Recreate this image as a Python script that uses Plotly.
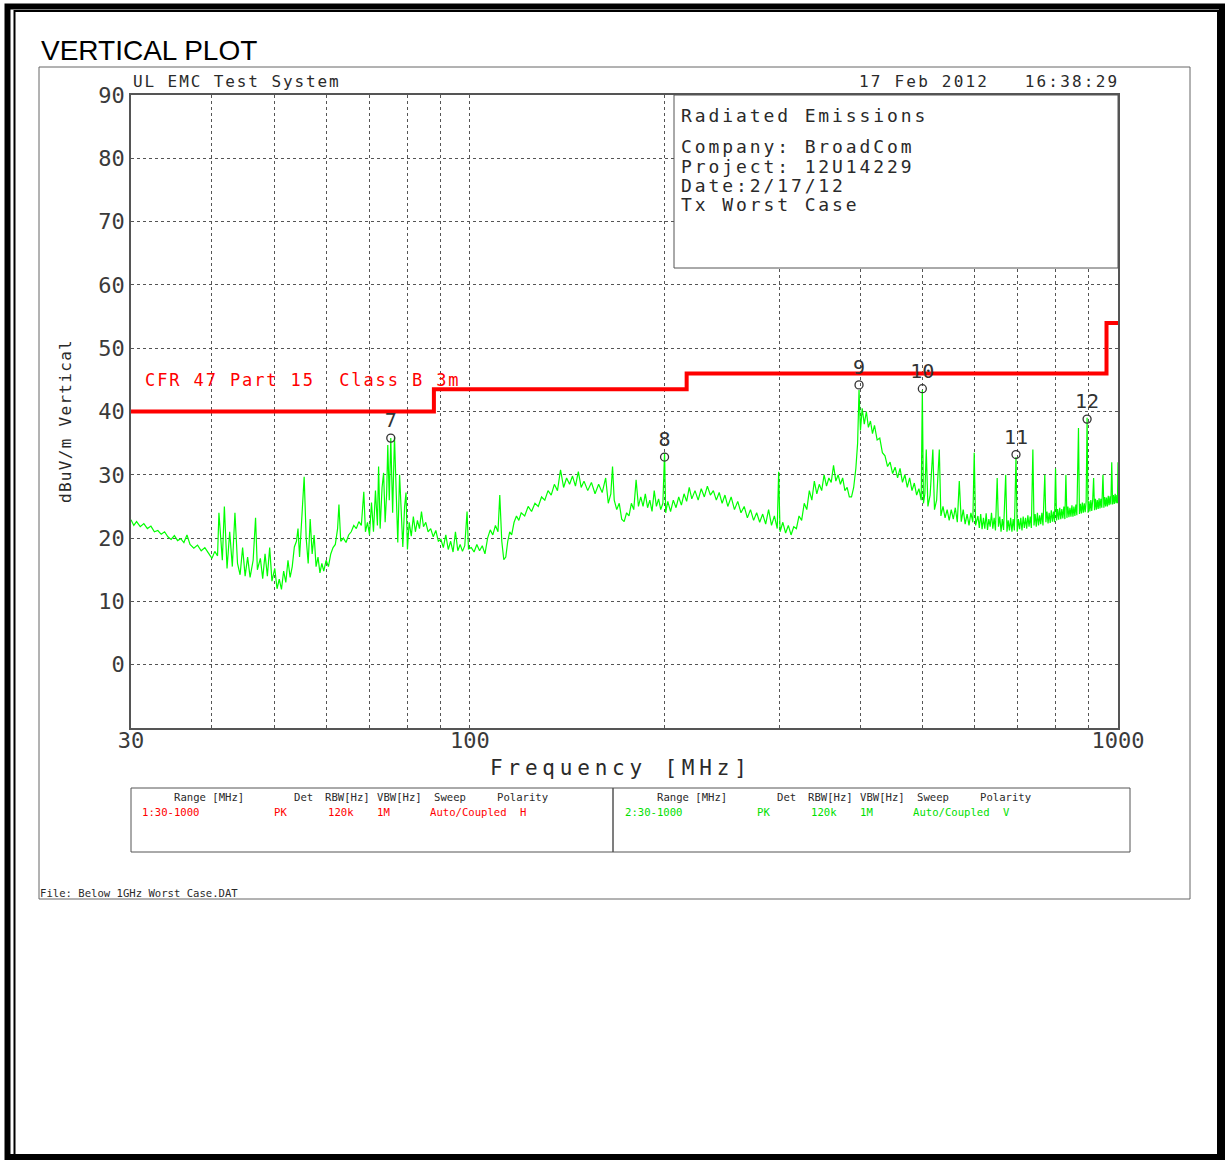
import math
import plotly.graph_objects as go

W, H = 1228, 1160
MONO = "DejaVu Sans Mono"
SANS = "Liberation Sans, Arial"
INK = "#2a2a2a"


def px(x):
    return x / W


def py(y):
    return 1 - y / H


# ---------------- data ----------------
freq_30_40 = [30, 30.3, 30.6, 31, 31.4, 31.8, 32.2, 32.6, 33, 33.4, 33.8, 34.2, 34.6, 35, 35.4,
              35.8, 36.2, 36.6, 37, 37.5, 38, 38.5, 39, 39.5, 40, 40.4, 40.8]
level_30_40 = [22.9, 22.0, 22.6, 21.8, 22.3, 21.5, 21.9, 21.0, 21.2, 20.6, 21.0, 20.2, 19.8, 20.4, 19.6,
               19.9, 19.3, 20.5, 19.0, 18.4, 18.9, 18.0, 18.5, 17.6, 16.8, 17.9, 17.2]

freq_41_70 = [41.0, 41.5, 41.8, 42.2, 42.6, 43.0, 43.4, 43.8, 44.2, 44.6, 45.0, 45.4, 45.8, 46.3, 46.7,
              47.0, 47.5, 47.9, 48.3, 48.7, 49.1, 49.5, 50.0, 50.4, 50.8, 51.2, 51.6, 52.0, 52.4, 52.8,
              53.2, 53.6, 54.0, 54.3, 54.6, 55.0, 55.5, 55.9, 56.3, 56.7, 57.1, 57.5, 57.9, 58.3, 58.7,
              59.1, 59.5, 60.0, 60.5, 61.0, 61.5, 62.0, 62.5, 62.8, 63.2, 63.8, 64.4, 65.0, 65.6, 66.2,
              66.8, 67.4, 68.0, 68.6, 69.0, 69.5]
level_41_70 = [24.0, 16.5, 25.0, 15.2, 21.0, 15.5, 24.0, 16.0, 14.2, 18.5, 14.0, 17.0, 13.8, 16.5, 23.2,
               15.0, 16.8, 13.6, 17.5, 14.0, 18.5, 13.2, 15.2, 12.0, 13.5, 11.9, 14.8, 13.0, 16.5, 13.8,
               15.5, 18.6, 19.5, 21.5, 17.0, 22.0, 29.7, 20.0, 16.0, 23.0, 17.5, 20.5, 15.5, 17.0, 14.5,
               16.0, 14.8, 16.5, 15.5, 17.5, 18.5, 19.0, 21.5, 25.3, 19.5, 20.0, 19.3, 20.5, 21.0, 22.0,
               21.5, 22.6, 22.0, 27.3, 21.0, 22.5]

freq_70_90 = [70.0, 70.5, 71.0, 71.5, 72.0, 72.3, 72.7, 73.2, 73.6, 74.0, 74.4, 74.7, 75.1, 75.5, 76.0,
              76.5, 77.0, 77.4, 77.9, 78.4, 78.8, 79.3, 79.7, 80.1, 80.6, 81.2, 81.8, 82.4, 83.0, 83.6,
              84.2, 84.8, 85.5, 86.2, 87.0, 87.8, 88.6, 89.4]
level_70_90 = [20.5, 25.6, 21.0, 27.5, 22.0, 31.3, 21.5, 28.0, 30.3, 22.5, 27.0, 34.7, 26.0, 35.8, 24.0,
               36.0, 26.5, 19.3, 30.0, 22.0, 18.6, 25.0, 27.2, 18.2, 22.5, 20.3, 23.4, 21.0, 22.8, 21.5,
               24.2, 21.8, 22.5, 21.0, 21.5, 20.2, 21.2, 19.5]

freq_90_162 = [90.2, 91.0, 91.8, 92.6, 93.4, 94.2, 95.0, 95.8, 96.6, 97.4, 98.2, 99.0, 99.5, 100.5, 101.5,
               102.5, 103.5, 104.5, 105.5, 106.5, 107.5, 108.5, 109.5, 110.5, 111.2, 112.0, 112.8, 113.6,
               114.4, 115.2, 116.0, 117.0, 118.0, 119.0, 120.0, 121.5, 123.0, 124.5, 126.0, 127.5, 129.0,
               130.5, 132.0, 133.5, 135.0, 136.5, 138.0, 139.5, 141.0, 142.5, 144.0, 145.5, 147.0, 148.5,
               150.0, 152.0, 154.0, 156.0, 158.0, 160.0, 162.0]
level_90_162 = [19.8, 18.5, 20.5, 18.2, 19.5, 17.8, 21.0, 18.0, 19.0, 17.9, 18.8, 24.2, 18.3, 18.5, 17.8,
                19.0, 18.0, 18.8, 17.5, 20.0, 21.3, 20.5, 22.0, 21.0, 26.8, 19.5, 16.6, 17.0,
                19.5, 21.0, 20.5, 22.5, 23.5, 22.8, 24.0, 23.5, 25.0, 24.2, 25.5, 25.0, 26.5,
                26.0, 27.5, 26.8, 28.5, 27.5, 30.8, 28.0, 29.5, 28.5, 29.8, 28.2, 30.5, 28.0,
                29.0, 27.5, 28.8, 27.0, 28.5, 27.2, 29.5]

freq_163_300 = [163.5, 165.0, 166.0, 167.0, 168.5, 170.0, 171.5, 173.0, 174.5, 176.0, 177.5, 179.0, 180.5,
                182.0, 183.5, 185.0, 186.5, 188.0, 189.5, 191.0, 192.5, 194.0, 195.5, 197.0, 198.5, 199.7,
                200.5, 202.0, 204.0, 206.0, 208.0, 210.0, 212.0, 214.0, 216.0, 218.0, 220.0, 222.5, 225.0,
                227.5, 230.0, 232.5, 235.0, 237.5, 240.0, 242.5, 245.0, 247.5, 250.0, 253.0, 256.0, 259.0,
                262.0, 265.0, 268.0, 271.0, 274.0, 277.0, 280.0, 283.0, 286.0, 289.0, 292.0, 295.0, 298.0,
                299.5]
level_163_300 = [25.5, 27.0, 31.3, 26.0, 24.5, 25.5, 23.0, 22.6, 24.0, 23.5, 25.5, 24.5, 29.2,
                 25.0, 26.5, 25.0, 27.0, 24.8, 26.0, 24.2, 27.5, 25.0, 26.2, 24.5, 25.5, 33.5,
                 24.0, 25.8, 24.2, 26.0, 24.8, 26.5, 25.2, 27.0, 25.8, 28.0, 26.2, 27.5, 26.0,
                 27.8, 26.5, 28.2, 26.8, 27.5, 26.0, 27.2, 25.5, 26.8, 25.0, 26.5, 24.5, 25.8,
                 24.0, 25.0, 23.2, 24.5, 22.8, 24.0, 22.5, 23.8, 22.2, 24.5, 22.0, 23.5, 21.5,
                 30.5]

freq_300_395 = [301.0, 304.0, 307.0, 310.0, 313.0, 316.0, 319.0, 322.0, 325.0, 328.0, 331.0, 334.0, 337.0,
                340.0, 343.0, 346.0, 349.0, 352.0, 355.0, 358.0, 361.0, 364.0, 367.0, 370.0, 373.0, 376.0,
                379.0, 382.0, 385.0, 388.0, 391.0, 394.0]
level_300_395 = [21.0, 22.5, 20.8, 22.0, 20.5, 21.8, 21.5, 23.5, 22.8, 25.5, 24.5, 27.5, 26.0,
                 29.0, 27.0, 28.5, 27.5, 30.0, 28.2, 29.5, 28.8, 31.5, 29.0, 30.0, 28.5, 29.5,
                 27.5, 28.0, 26.5, 26.5, 28.0, 31.0]

freq_396_605 = [396.5, 398.5, 400.5, 403.0, 406.0, 409.0, 412.0, 415.0, 418.0, 421.0, 425.0, 429.0, 433.0,
                437.0, 441.0, 445.0, 449.0, 453.0, 457.0, 461.0, 465.0, 469.0, 473.0, 477.0, 481.0, 485.0,
                489.0, 493.0, 497.0, 499.0, 501.0, 503.5, 506.0, 509.0, 513.0, 518.0, 521.0, 525.0, 530.0,
                533.0, 537.0, 541.0, 545.0, 549.0, 553.0, 557.0, 561.0, 565.0, 569.0, 573.0, 577.0, 581.0,
                585.0, 589.0, 593.0, 597.0, 600.0, 603.0]
level_396_605 = [35.0, 43.4, 37.0, 40.5, 38.0, 40.0, 37.5, 38.5, 36.5, 37.8, 35.5, 35.8, 33.5,
                 33.0, 31.3, 32.0, 30.2, 31.2, 29.5, 31.0, 28.8, 30.0, 28.0, 29.5, 27.5, 28.7,
                 26.8, 27.8, 26.0, 43.4, 25.5, 27.0, 34.0, 25.0, 26.8, 34.0, 24.5, 26.0, 34.0,
                 23.5, 25.0, 23.2, 24.5, 22.8, 24.5, 23.0, 24.8, 22.5, 29.0, 22.6, 24.5, 22.2,
                 23.8, 22.0, 24.0, 22.5, 33.5, 22.0]

freq_608_1000 = [608, 611, 614, 617, 620, 623, 626, 629, 632, 635,
                 638, 641, 644, 647, 651, 654, 657, 660, 663, 666,
                 671, 674, 677, 680, 683, 686, 689, 692, 696, 699,
                 702, 705, 708, 711, 714, 717, 720, 723, 726, 729,
                 732, 735, 739, 742, 745, 748, 751, 754, 757, 760,
                 763, 766, 771, 774, 777, 780, 783, 786, 789, 792,
                 795, 798, 801, 804, 807, 810, 813, 816, 819, 822,
                 825, 828, 831, 834, 837, 840, 843, 846, 849, 852,
                 855, 858, 861, 864, 869, 872, 875, 878, 881, 884,
                 887, 890, 893, 896, 899, 902, 905, 908, 911, 914,
                 917, 920, 923, 926, 929, 932, 935, 938, 941, 944,
                 948, 951, 954, 957, 960, 963, 966, 969, 972, 975,
                 978, 981, 984, 987, 990, 993, 996, 998, 1000]
level_608_1000 = [23.5, 21.6, 23.8, 21.4, 23.2, 21.5, 23.9, 21.3, 23.0, 21.8,
                  24.0, 21.5, 23.2, 21.2, 29.5, 21.8, 23.4, 21.0, 23.0, 21.3,
                  30.0, 21.0, 22.8, 21.2, 23.2, 21.0, 23.0, 21.2, 32.8, 21.0,
                  23.0, 21.4, 23.2, 21.2, 23.4, 21.6, 23.2, 21.5, 23.6, 21.8,
                  23.4, 21.6, 34.0, 22.0, 23.8, 21.8, 24.0, 22.0, 23.6, 22.2,
                  24.0, 22.0, 30.0, 22.5, 24.2, 22.3, 24.0, 22.4, 24.4, 22.6,
                  24.2, 22.5, 31.0, 22.8, 24.6, 22.9, 24.8, 23.0, 24.6, 23.1,
                  25.0, 23.0, 30.0, 23.2, 25.0, 23.3, 24.8, 23.4, 25.2, 23.4,
                  25.0, 23.5, 25.3, 23.6, 37.4, 23.8, 25.4, 23.9, 25.6, 24.0,
                  25.5, 24.1, 25.8, 39.0, 24.0, 25.8, 24.2, 26.0, 24.3, 26.0,
                  29.5, 24.4, 26.2, 24.5, 26.0, 24.6, 26.3, 24.7, 26.2, 24.8,
                  30.0, 24.8, 26.5, 25.0, 26.4, 25.0, 26.7, 25.2, 26.6, 25.3,
                  32.0, 25.3, 26.8, 25.4, 27.0, 25.5, 26.8, 25.5, 32.0]

freq_mhz = (freq_30_40 + freq_41_70 + freq_70_90 + freq_90_162 + freq_163_300
            + freq_300_395 + freq_396_605 + freq_608_1000)
level_dbuv = (level_30_40 + level_41_70 + level_70_90 + level_90_162 + level_163_300
              + level_300_395 + level_396_605 + level_608_1000)

limit_freq = [30, 88, 88, 216, 216, 960, 960, 1000]
limit_level = [40, 40, 43.5, 43.5, 46, 46, 54, 54]
limit_name = "CFR 47 Part 15  Class B 3m"

marker_labels = ["7", "8", "9", "10", "11", "12"]
marker_freq = [75.5, 199.7, 398.5, 499.0, 696.0, 896.0]
marker_level = [35.8, 32.8, 44.2, 43.6, 33.2, 38.8]

x_grid = [30, 40, 50, 60, 70, 80, 90, 100, 200, 300, 400, 500, 600, 700, 800, 900, 1000]
x_labels = ["30", "", "", "", "", "", "", "100", "", "", "", "", "", "", "", "", "1000"]
y_grid = [0, 10, 20, 30, 40, 50, 60, 70, 80, 90]
y_labels = ["0", "10", "20", "30", "40", "50", "60", "70", "80", "90"]

info_lines = ["Radiated Emissions", "Company: BroadCom", "Project: 12U14229", "Date:2/17/12", "Tx Worst Case"]
scan_headers = ["Range [MHz]", "Det", "RBW[Hz]", "VBW[Hz]", "Sweep", "Polarity"]
scan1_values = ["1:30-1000", "PK", "120k", "1M", "Auto/Coupled", "H"]
scan2_values = ["2:30-1000", "PK", "120k", "1M", "Auto/Coupled", "V"]

# ---------------- figure ----------------
fig = go.Figure()

fig.add_trace(go.Scatter(x=freq_mhz, y=level_dbuv, mode="lines",
                         line=dict(color="#00ff00", width=1.2), hoverinfo="skip"))
fig.add_trace(go.Scatter(x=limit_freq, y=limit_level, mode="lines",
                         line=dict(color="#ff0000", width=4), hoverinfo="skip"))
fig.add_trace(go.Scatter(x=marker_freq, y=marker_level, mode="markers+text",
                         text=marker_labels, textposition="top center",
                         textfont=dict(family=MONO, size=20, color="#333"),
                         marker=dict(symbol="circle-open", size=8, color="#333",
                                     line=dict(width=1.3, color="#333")),
                         hoverinfo="skip"))

grid_common = dict(showgrid=True, gridcolor="#555", gridwidth=1, griddash="3px,3px",
                   showline=True, mirror=True, linecolor="#555", linewidth=1.5,
                   ticks="", zeroline=False, automargin=False,
                   tickfont=dict(family=MONO, size=22, color="#3a3a3a"))

fig.update_layout(
    width=W, height=H, autosize=False, margin=dict(l=0, r=0, t=0, b=0, pad=0),
    paper_bgcolor="white", plot_bgcolor="white", showlegend=False,
    xaxis=dict(type="log", range=[math.log10(30), math.log10(1000)],
               domain=[px(131), px(1118)], tickmode="array", tickvals=x_grid, ticktext=x_labels,
               ticklabelstandoff=-8, **grid_common),
    yaxis=dict(range=[-10, 90], domain=[py(728), py(95)], tickmode="array",
               tickvals=y_grid, ticktext=y_labels, ticklabelstandoff=0, **grid_common),
)


def sp(text, spacing):
    return f'<span style="letter-spacing:{spacing}px">{text}</span>'


def note(x, y, text, size, color=INK, family=MONO, xanchor="left", spacing=None, angle=0):
    fig.add_annotation(x=px(x), y=py(y), xref="paper", yref="paper", showarrow=False,
                       text=sp(text, spacing) if spacing else text, textangle=angle,
                       xanchor=xanchor, yanchor="middle",
                       font=dict(family=family, size=size, color=color))


# titles and header texts
note(39, 50, "VERTICAL PLOT", 28, color="#000", family=SANS)
note(131, 82, "UL EMC Test System", 16, spacing=1.9)
note(1121, 82, "17 Feb 2012   16:38:29", 16, xanchor="right", spacing=2.2)
note(488, 768, "Frequency [MHz]", 21, spacing=4.8)
note(66, 421, "dBuV/m Vertical", 16, spacing=1.3, angle=-90, xanchor="center")

# limit-line caption (data coordinates)
fig.add_annotation(x=math.log10(31.3), y=45, xref="x", yref="y", showarrow=False,
                   text=sp(limit_name, 1.9), xanchor="left", yanchor="middle",
                   font=dict(family=MONO, size=17, color="#ff0000"))

# info box
info_y = [115, 147, 166, 185, 204]
for line, yy in zip(info_lines, info_y):
    note(679, yy, line, 18, spacing=2.9)

# scan-setting tables
hdr_x = [172, 292, 323, 375, 432, 495]
val_x = [140, 272, 326, 375, 428, 518]
for i in range(6):
    note(hdr_x[i], 797, scan_headers[i], 10.6)
    note(hdr_x[i] + 483, 797, scan_headers[i], 10.6)
    note(val_x[i], 812, scan1_values[i], 10.6, color="#ff0000")
    note(val_x[i] + 483, 812, scan2_values[i], 10.6, color="#00e000")

note(38, 893, "File: Below 1GHz Worst Case.DAT", 10.6)

# decorative frames
shapes = [
    dict(type="rect", xref="paper", yref="paper", x0=px(39), x1=px(1190), y0=py(899), y1=py(67),
         line=dict(color="#666", width=1), layer="below"),
    dict(type="rect", xref="paper", yref="paper", x0=px(674), x1=px(1118), y0=py(268), y1=py(95),
         line=dict(color="#555", width=1), fillcolor="white", layer="above"),
    dict(type="rect", xref="paper", yref="paper", x0=px(131), x1=px(613), y0=py(852), y1=py(788),
         line=dict(color="#555", width=1)),
    dict(type="rect", xref="paper", yref="paper", x0=px(613), x1=px(1130), y0=py(852), y1=py(788),
         line=dict(color="#555", width=1)),
    dict(type="rect", xref="paper", yref="paper", x0=px(7.5), x1=px(1222), y0=py(1157), y1=py(6.5),
         line=dict(color="#000", width=6)),
    dict(type="rect", xref="paper", yref="paper", x0=px(14.5), x1=px(1218), y0=py(1155), y1=py(11),
         line=dict(color="#000", width=2)),
]
fig.update_layout(shapes=shapes)

fig.write_html("out.html", config={"responsive": False, "displayModeBar": False},
               post_script="document.body.style.margin='0';document.body.style.overflow='hidden';")
